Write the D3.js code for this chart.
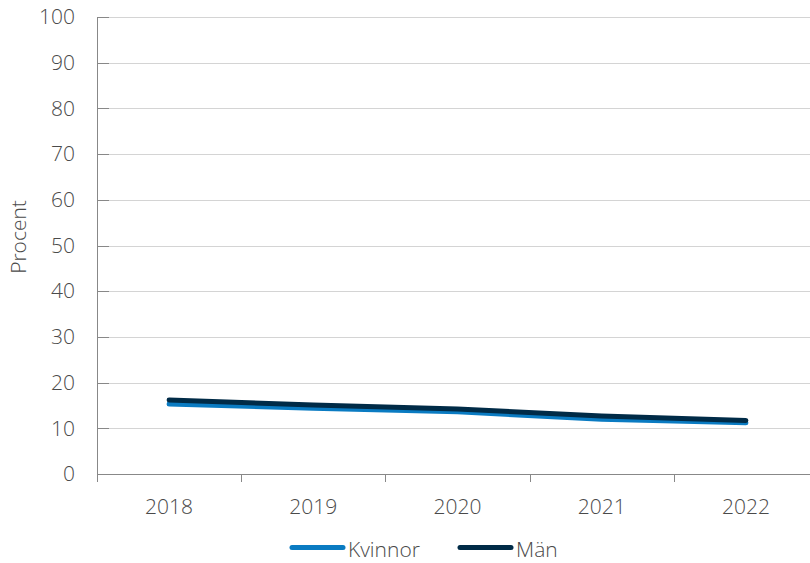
<!DOCTYPE html>
<html><head><meta charset="utf-8">
<script src="https://cdn.jsdelivr.net/npm/d3@7"></script>
<style>
body{margin:0;background:#fff;}
text{font-family:"Open Sans",sans-serif;fill:#4a4a4a;font-weight:300;}
</style></head><body>
<svg id="c" width="810" height="563"></svg>
<script>
const years = ["2018","2019","2020","2021","2022"];
const kvinnor = [15.3, 14.4, 13.6, 12.0, 11.2];
const man = [16.2, 15.1, 14.2, 12.7, 11.7];
const yTicks = [0,10,20,30,40,50,60,70,80,90,100];
const seriesNames = ["Kvinnor","Män"];
const colors = ["#0a7bc2","#002b47"];

const svg = d3.select("#c");
const x = d3.scaleBand().domain(years).range([97, 818]);
const y = d3.scaleLinear().domain([0,100]).range([474, 17]);

// grid
svg.append("g").selectAll("line").data(yTicks.filter(d=>d>0)).join("line")
  .attr("x1",97).attr("x2",810).attr("y1",d=>Math.round(y(d))+0.5).attr("y2",d=>Math.round(y(d))+0.5)
  .attr("stroke","#d4d4d4").attr("stroke-width",1);

// y axis
const ya = svg.append("g").attr("transform","translate(97,0)")
  .call(d3.axisLeft(y).tickValues(yTicks).tickSize(0).tickPadding(0));
ya.select(".domain").remove();
ya.selectAll("text").attr("x",-22).attr("font-size",21).attr("fill","#4a4a4a")
  .attr("font-family","Open Sans").attr("font-weight",300);
svg.append("line").attr("x1",97.5).attr("x2",97.5).attr("y1",17).attr("y2",482).attr("stroke","#888");
svg.append("g").selectAll("line").data(yTicks).join("line")
  .attr("x1",97).attr("x2",109).attr("y1",d=>Math.round(y(d))+0.5).attr("y2",d=>Math.round(y(d))+0.5).attr("stroke","#888");

// x axis
svg.append("line").attr("x1",97).attr("x2",810).attr("y1",474.5).attr("y2",474.5).attr("stroke","#888");
const bounds = years.slice(1).map(d=>x(d));
svg.append("g").selectAll("line").data(bounds).join("line")
  .attr("x1",d=>Math.round(d)+0.5).attr("x2",d=>Math.round(d)+0.5).attr("y1",474).attr("y2",482).attr("stroke","#888");
svg.append("g").selectAll("text").data(years).join("text")
  .attr("x",d=>x(d)+x.bandwidth()/2).attr("y",514).attr("text-anchor","middle")
  .attr("font-size",21).text(d=>d);

// y label
svg.append("text").attr("transform","translate(26,237) rotate(-90)").attr("text-anchor","middle")
  .attr("font-size",21).text("Procent");

// lines
const line = d3.line().x((d,i)=>x(years[i])+x.bandwidth()/2).y(d=>y(d));
[kvinnor, man].forEach((s,i)=>{
  svg.append("path").datum(s).attr("d",line).attr("fill","none")
    .attr("stroke",colors[i]).attr("stroke-width",5).attr("stroke-linecap","round").attr("stroke-linejoin","round");
});

// legend
const leg = [{x:292,name:seriesNames[0],c:colors[0]},{x:460,name:seriesNames[1],c:colors[1]}];
leg.forEach(l=>{
  svg.append("line").attr("x1",l.x).attr("x2",l.x+51).attr("y1",547.5).attr("y2",547.5)
    .attr("stroke",l.c).attr("stroke-width",5).attr("stroke-linecap","round");
  svg.append("text").attr("x",l.x+56).attr("y",557).attr("font-size",21).text(l.name);
});
</script></body></html>
